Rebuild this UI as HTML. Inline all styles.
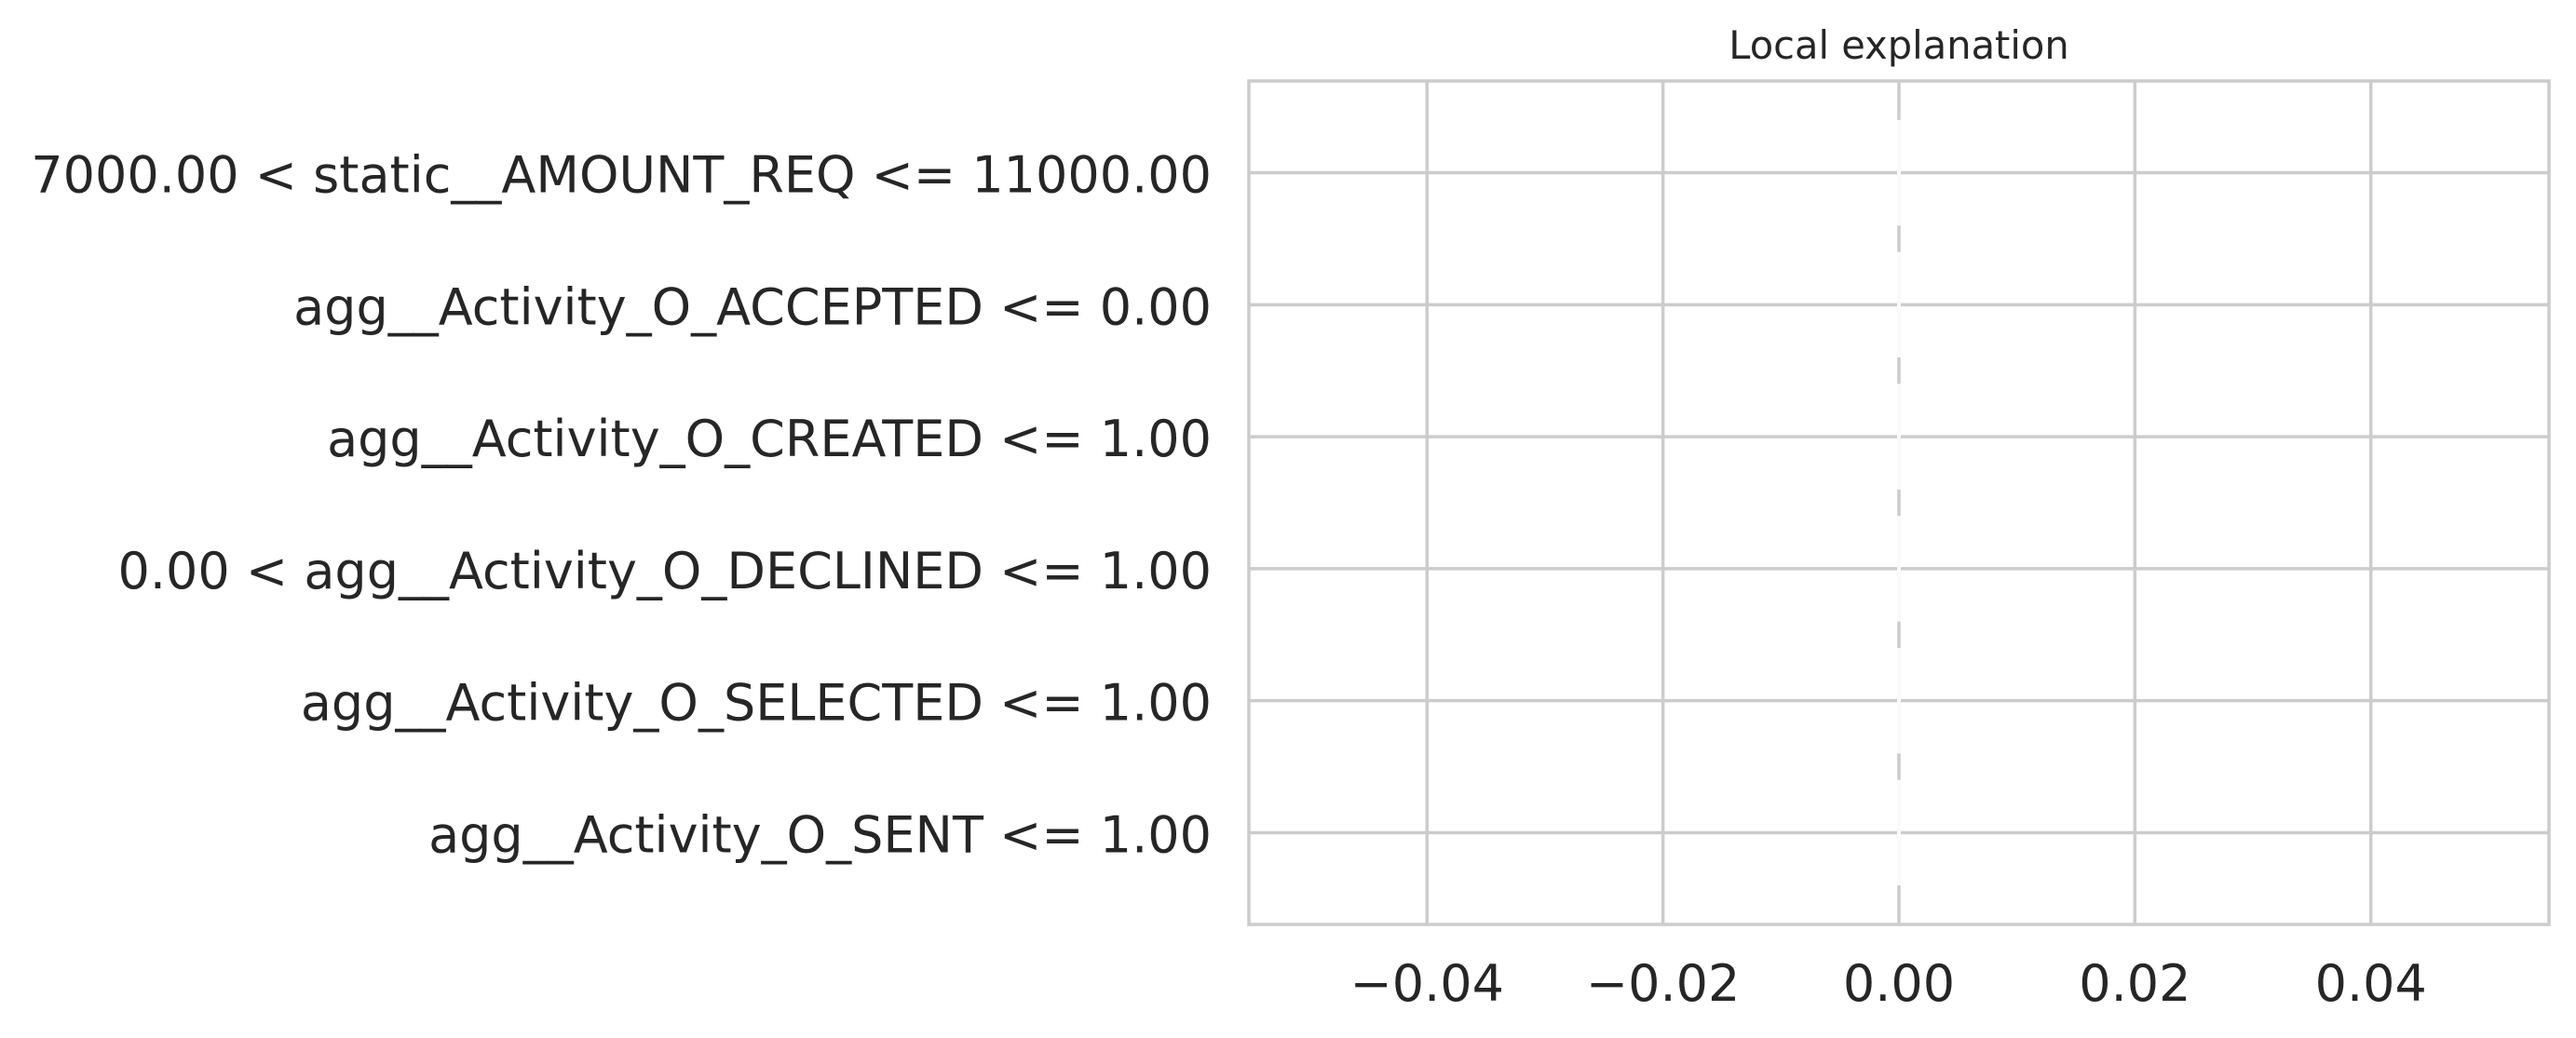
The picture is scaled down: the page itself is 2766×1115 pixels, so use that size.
<!DOCTYPE html>
<html><head><meta charset="utf-8"><style>
html,body{margin:0;padding:0;background:#fff;}
svg{display:block;font-family:"DejaVu Sans","Liberation Sans",sans-serif;}
</style></head><body>
<svg id="chart" width="2766" height="1115" viewBox="0 0 2766 1115">
<rect x="0" y="0" width="2766" height="1115" fill="#fff"/>
<text x="2039" y="63" text-anchor="middle" font-size="41.6" fill="#262626">Local explanation</text>
<g id="grid"></g>
<g id="bars"></g>
<g id="ylabels"></g>
<g id="xlabels"></g>
<rect x="1341" y="87" width="1396" height="906" fill="none" stroke="#cccccc" stroke-width="3.5"/>
</svg>
<script>
const categories = ["7000.00 < static__AMOUNT_REQ <= 11000.00","agg__Activity_O_ACCEPTED <= 0.00","agg__Activity_O_CREATED <= 1.00","0.00 < agg__Activity_O_DECLINED <= 1.00","agg__Activity_O_SELECTED <= 1.00","agg__Activity_O_SENT <= 1.00"];
const values = [0,0,0,0,0,0];
const xTicks = [-0.04,-0.02,0,0.02,0.04];
const xTickLabels = ["\u22120.04","\u22120.02","0.00","0.02","0.04"];

const NS="http://www.w3.org/2000/svg";
const L=1341,R=2737,T=87,B=993,XMIN=-0.0551,XMAX=0.0551,YMIN=-0.695,YMAX=5.695;
function xs(v){return L+(v-XMIN)/(XMAX-XMIN)*(R-L);}
function ys(i){return T+(i-YMIN)/(YMAX-YMIN)*(B-T);}
function mk(tag,attrs,parent){const e=document.createElementNS(NS,tag);for(const k in attrs)e.setAttribute(k,attrs[k]);parent.appendChild(e);return e;}
const grid=document.getElementById('grid'),bars=document.getElementById('bars'),yl=document.getElementById('ylabels'),xl=document.getElementById('xlabels');
xTicks.forEach((t,i)=>{
  const g=mk('line',{x1:xs(t),x2:xs(t),y1:T,y2:B,stroke:'#cccccc','stroke-width':3.5},grid);
  
  
  const tx=mk('text',{x:xs(t),y:1075,'text-anchor':'middle','font-size':54,fill:'#262626'},xl);
  tx.textContent=xTickLabels[i];
  
  
});
categories.forEach((c,i)=>{
  const y=ys(i);
  const g=mk('line',{x1:L,x2:R,y1:y,y2:y,stroke:'#cccccc','stroke-width':3.5},grid);
  
  
});
categories.forEach((c,i)=>{
  const y=ys(i);
  const h=0.8*(ys(1)-ys(0));
  const x0=xs(0),x1=xs(values[i]);
  const b=mk('path',{d:`M${x0},${y-h/2}H${x1}V${y+h/2}H${x0}Z`,fill:values[i]>=0?'#4c72b0':'#dd8452',stroke:'#fafafa','stroke-width':4},bars);
  
  
  const t=mk('text',{x:1301,y:y+21,'text-anchor':'end','font-size':54,fill:'#262626'},yl);
  t.textContent=c;
  
  
});
</script>
</body></html>
